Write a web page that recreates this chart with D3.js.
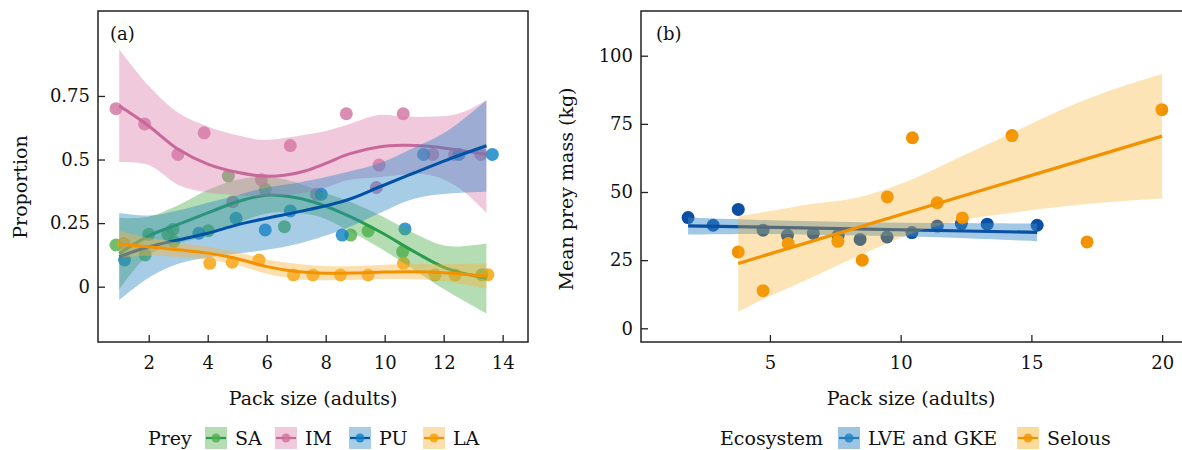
<!DOCTYPE html>
<html><head><meta charset="utf-8">
<script src="https://cdn.jsdelivr.net/npm/d3@7"></script>
<style>
body{margin:0;background:#fff}
svg text{font-family:"DejaVu Serif",serif;fill:#111}
</style>
</head><body>
<svg id="c" width="1182" height="450"></svg>
<script>
// ---------- Panel (a): proportion of prey by pack size ----------
const preyNames = ["SA", "IM", "PU", "LA"];
const preyPointColors = ["#4daf4a", "#d1709f", "#0a7fc4", "#f4a000"];
const preyLineColors = ["#2a9d4a", "#c8689a", "#0052a5", "#f39200"];
const preyRibbonColors = ["#4daf4a", "#dc7fae", "#2a86c3", "#fbb23c"];

const saX = [0.89, 1.88, 2.0, 2.65, 2.82, 2.85, 4.02, 4.7, 5.95, 6.6, 8.85, 9.44, 10.61, 13.3];
const saY = [0.164, 0.125, 0.206, 0.206, 0.225, 0.177, 0.22, 0.435, 0.383, 0.236, 0.203, 0.219, 0.138, 0.047];
const imX = [0.89, 1.86, 2.99, 3.88, 4.85, 5.82, 6.8, 7.69, 8.7, 9.72, 9.81, 10.63, 11.63, 12.37, 13.26];
const imY = [0.70, 0.64, 0.52, 0.605, 0.334, 0.42, 0.555, 0.363, 0.68, 0.39, 0.478, 0.68, 0.52, 0.52, 0.52];
const puX = [1.18, 3.7, 4.96, 5.95, 6.8, 7.85, 8.56, 10.69, 11.32, 12.52, 13.65];
const puY = [0.105, 0.21, 0.269, 0.223, 0.298, 0.363, 0.203, 0.227, 0.52, 0.52, 0.52];
const laX = [1.15, 4.07, 4.83, 5.74, 6.91, 7.57, 8.5, 9.44, 10.64, 11.71, 12.39, 13.5];
const laY = [0.17, 0.092, 0.096, 0.105, 0.046, 0.046, 0.046, 0.046, 0.092, 0.046, 0.046, 0.047];

const saFitX = [1, 2, 3, 4, 5, 6, 7, 7.8, 8.7, 9.87, 11, 12.1, 13.45];
const saFit  = [0.13, 0.2, 0.245, 0.29, 0.334, 0.36, 0.35, 0.325, 0.282, 0.214, 0.138, 0.072, 0.033];
const saHi   = [0.27, 0.275, 0.32, 0.38, 0.42, 0.432, 0.41, 0.375, 0.34, 0.28, 0.21, 0.16, 0.17];
const saLo   = [-0.01, 0.125, 0.17, 0.2, 0.248, 0.288, 0.29, 0.275, 0.225, 0.15, 0.066, -0.016, -0.105];

const imFitX = [1, 2, 3, 4, 5, 5.9, 6.6, 7.3, 8, 8.8, 9.8, 10.6, 11.5, 12.5, 13.45];
const imFit  = [0.711, 0.632, 0.54, 0.482, 0.45, 0.435, 0.438, 0.455, 0.485, 0.522, 0.549, 0.556, 0.552, 0.537, 0.52];
const imHi   = [0.934, 0.79, 0.684, 0.63, 0.595, 0.577, 0.585, 0.597, 0.612, 0.64, 0.675, 0.67, 0.668, 0.68, 0.733];
const imLo   = [0.49, 0.478, 0.40, 0.37, 0.36, 0.355, 0.36, 0.37, 0.39, 0.42, 0.43, 0.44, 0.44, 0.39, 0.29];

const puFitX = [1, 2, 3, 4, 5, 6, 7.1, 8.7, 9.84, 10.97, 12.1, 13.45];
const puFit  = [0.118, 0.157, 0.184, 0.21, 0.243, 0.269, 0.295, 0.34, 0.393, 0.446, 0.498, 0.554];
const puHi   = [0.29, 0.28, 0.3, 0.33, 0.36, 0.39, 0.41, 0.45, 0.486, 0.545, 0.61, 0.733];
const puLo   = [-0.053, 0.035, 0.09, 0.115, 0.13, 0.145, 0.17, 0.23, 0.29, 0.345, 0.365, 0.373];

const laFitX = [1, 2, 3, 4, 5, 6, 7, 8, 9, 10, 11, 12, 13.45];
const laFit  = [0.167, 0.157, 0.145, 0.132, 0.11, 0.079, 0.06, 0.053, 0.054, 0.058, 0.059, 0.055, 0.042];
const laHi   = [0.22, 0.192, 0.173, 0.157, 0.135, 0.107, 0.09, 0.081, 0.081, 0.086, 0.089, 0.088, 0.092];
const laLo   = [0.114, 0.122, 0.117, 0.107, 0.085, 0.051, 0.03, 0.025, 0.027, 0.03, 0.029, 0.022, -0.008];

const aXTicks = [2, 4, 6, 8, 10, 12, 14];
const aYTicks = [0, 0.25, 0.5, 0.75];
const aYTickLabels = ["0", "0.25", "0.5", "0.75"];

// ---------- Panel (b): mean prey mass by pack size ----------
const ecoNames = ["LVE and GKE", "Selous"];
const ecoColors = ["#0a4fa3", "#f39200"];
const ecoRibbonColors = ["#3a8cc8", "#f6ac20"];
const ecoKeyLine = ["#1f7fc0", "#f39200"];

const lveX = [1.87, 2.83, 3.79, 4.74, 5.67, 6.66, 7.61, 8.45, 9.48, 10.43, 11.4, 12.32, 13.31, 15.22];
const lveY = [40.6, 37.8, 43.6, 36.0, 34.1, 34.8, 34.1, 32.6, 33.5, 35.1, 37.5, 38.4, 38.2, 37.8];
const selX = [3.79, 4.74, 5.7, 7.6, 8.53, 9.49, 10.45, 11.4, 12.36, 14.26, 17.13, 19.99];
const selY = [28.0, 13.8, 31.1, 31.9, 25.0, 48.2, 69.9, 46.1, 40.5, 70.7, 31.7, 80.2];

const lveFitX = [1.87, 15.22];
const lveFit  = [37.6, 35.2];
const lveBandX = [1.87, 5, 8.5, 12, 15.22];
const lveHi = [40.6, 39.6, 38.9, 38.6, 38.4];
const lveLo = [34.4, 34.6, 34.0, 33.2, 31.9];

const selFitX = [3.79, 20];
const selFit  = [23.8, 70.5];
const selBandX = [3.79, 5, 6.5, 8.45, 10.36, 12.27, 14.18, 16.09, 18, 20];
const selHi = [41, 43, 45.5, 48.2, 54.3, 62.8, 71.3, 79.9, 87.2, 93.3];
const selLo = [6.1, 11.8, 18.2, 26.8, 34.5, 39.5, 42.3, 44.6, 46.3, 47.6];

const bXTicks = [5, 10, 15, 20];
const bYTicks = [0, 25, 50, 75, 100];

// ---------- build ----------
const svg = d3.select("#c");
const zip = (xs, ys) => xs.map((x, i) => [x, ys[i]]);
const band = (xs, lo, hi) => xs.map((x, i) => ({x, lo: lo[i], hi: hi[i]}));

const prey = [
  {pts: zip(saX, saY), fit: zip(saFitX, saFit), band: band(saFitX, saLo, saHi)},
  {pts: zip(imX, imY), fit: zip(imFitX, imFit), band: band(imFitX, imLo, imHi)},
  {pts: zip(puX, puY), fit: zip(puFitX, puFit), band: band(puFitX, puLo, puHi)},
  {pts: zip(laX, laY), fit: zip(laFitX, laFit), band: band(laFitX, laLo, laHi)}
];
prey.forEach((s, i) => { s.name = preyNames[i]; s.pc = preyPointColors[i]; s.lc = preyLineColors[i]; s.rc = preyRibbonColors[i]; });

const xA = d3.scaleLinear().domain([0.28, 14.86]).range([98, 528]);
const yA = d3.scaleLinear().domain([-0.2175, 1.084]).range([342, 11]);
const xB = d3.scaleLinear().domain([0.07, 20.76]).range([641, 1182]);
const yB = d3.scaleLinear().domain([-5.03, 116.4]).range([342, 11]);

// Panel a
const gA = svg.append("g");
prey.forEach(s => {
  gA.append("g").selectAll("circle").data(s.pts).join("circle")
    .attr("cx", d => xA(d[0])).attr("cy", d => yA(d[1])).attr("r", 6.5)
    .attr("fill", s.pc).attr("fill-opacity", 0.8);
});
prey.forEach(s => {
  gA.append("path").datum(s.band)
    .attr("d", d3.area().x(d => xA(d.x)).y0(d => yA(d.lo)).y1(d => yA(d.hi)).curve(d3.curveCatmullRom))
    .attr("fill", s.rc).attr("fill-opacity", 0.42);
  gA.append("path").datum(s.fit)
    .attr("d", d3.line().x(d => xA(d[0])).y(d => yA(d[1])).curve(d3.curveCatmullRom))
    .attr("fill", "none").attr("stroke", s.lc).attr("stroke-width", 3);
});

function frame(x0, x1) {
  svg.append("rect").attr("x", x0).attr("y", 11).attr("width", x1 - x0).attr("height", 331)
    .attr("fill", "none").attr("stroke", "#222").attr("stroke-width", 1.5);
}
frame(98, 528);

svg.append("g").attr("transform", "translate(0,342)")
  .call(d3.axisBottom(xA).tickValues(aXTicks).tickSizeInner(-7).tickSizeOuter(0).tickPadding(14));
svg.append("g").attr("transform", "translate(98,0)")
  .call(d3.axisLeft(yA).tickValues(aYTicks).tickFormat((d, i) => aYTickLabels[i]).tickSizeInner(-7).tickSizeOuter(0).tickPadding(8));

// Panel b
const gB = svg.append("g");
gB.append("g").selectAll("circle").data(zip(lveX, lveY)).join("circle")
  .attr("cx", d => xB(d[0])).attr("cy", d => yB(d[1])).attr("r", 6.5).attr("fill", ecoColors[0]);
gB.append("g").selectAll("circle").data(zip(selX, selY)).join("circle")
  .attr("cx", d => xB(d[0])).attr("cy", d => yB(d[1])).attr("r", 6.5).attr("fill", ecoColors[1]);
const ecoBands = [band(lveBandX, lveLo, lveHi), band(selBandX, selLo, selHi)];
const ecoFits = [zip(lveFitX, lveFit), zip(selFitX, selFit)];
[0, 1].forEach(i => {
  gB.append("path").datum(ecoBands[i])
    .attr("d", d3.area().x(d => xB(d.x)).y0(d => yB(d.lo)).y1(d => yB(d.hi)).curve(d3.curveCatmullRom))
    .attr("fill", ecoRibbonColors[i]).attr("fill-opacity", i === 0 ? 0.48 : 0.32);
  gB.append("path").datum(ecoFits[i])
    .attr("d", d3.line().x(d => xB(d[0])).y(d => yB(d[1])))
    .attr("fill", "none").attr("stroke", ecoColors[i]).attr("stroke-width", 3.2);
});
frame(641, 1184);
svg.append("g").attr("transform", "translate(0,342)")
  .call(d3.axisBottom(xB).tickValues(bXTicks).tickSizeInner(-7).tickSizeOuter(0).tickPadding(14));
svg.append("g").attr("transform", "translate(641,0)")
  .call(d3.axisLeft(yB).tickValues(bYTicks).tickSizeInner(-7).tickSizeOuter(0).tickPadding(8));

svg.selectAll(".domain").remove();
svg.selectAll(".tick line").attr("stroke", "#222").attr("stroke-width", 1.3);
svg.selectAll(".tick text").attr("font-size", 18).attr("font-family", "DejaVu Serif").attr("fill", "#111");

// Labels
svg.append("text").attr("x", 110).attr("y", 40).attr("font-size", 18).text("(a)");
svg.append("text").attr("x", 656).attr("y", 40).attr("font-size", 18).text("(b)");
svg.append("text").attr("x", 313).attr("y", 405).attr("text-anchor", "middle").attr("font-size", 19).text("Pack size (adults)");
svg.append("text").attr("x", 911).attr("y", 405).attr("text-anchor", "middle").attr("font-size", 19).text("Pack size (adults)");
svg.append("text").attr("transform", "translate(27,187) rotate(-90)").attr("text-anchor", "middle").attr("font-size", 19).text("Proportion");
svg.append("text").attr("transform", "translate(573,189) rotate(-90)").attr("text-anchor", "middle").attr("font-size", 19).text("Mean prey mass (kg)");

// Legends
function key(x, fill, fillOp, line, dot) {
  const g = svg.append("g").attr("transform", `translate(${x},427)`);
  g.append("rect").attr("width", 22).attr("height", 22).attr("fill", fill).attr("fill-opacity", fillOp);
  g.append("line").attr("x1", 1).attr("x2", 21).attr("y1", 11).attr("y2", 11).attr("stroke", line).attr("stroke-width", 2.2);
  g.append("circle").attr("cx", 11).attr("cy", 11).attr("r", 4.5).attr("fill", dot).attr("fill-opacity", 0.8);
}
svg.append("text").attr("x", 148).attr("y", 445).attr("font-size", 19).text("Prey");
const keyXA = [205, 275, 349, 423];
prey.forEach((s, i) => {
  key(keyXA[i], s.rc, 0.42, s.lc, s.pc);
  svg.append("text").attr("x", keyXA[i] + 30).attr("y", 445).attr("font-size", 19).text(s.name);
});
svg.append("text").attr("x", 720).attr("y", 445).attr("font-size", 19).text("Ecosystem");
const keyXB = [838, 1017];
ecoNames.forEach((n, i) => {
  key(keyXB[i], ecoRibbonColors[i], i === 0 ? 0.5 : 0.45, ecoKeyLine[i], ecoKeyLine[i]);
  svg.append("text").attr("x", keyXB[i] + 30).attr("y", 445).attr("font-size", 19).text(n);
});
</script>
</body></html>
